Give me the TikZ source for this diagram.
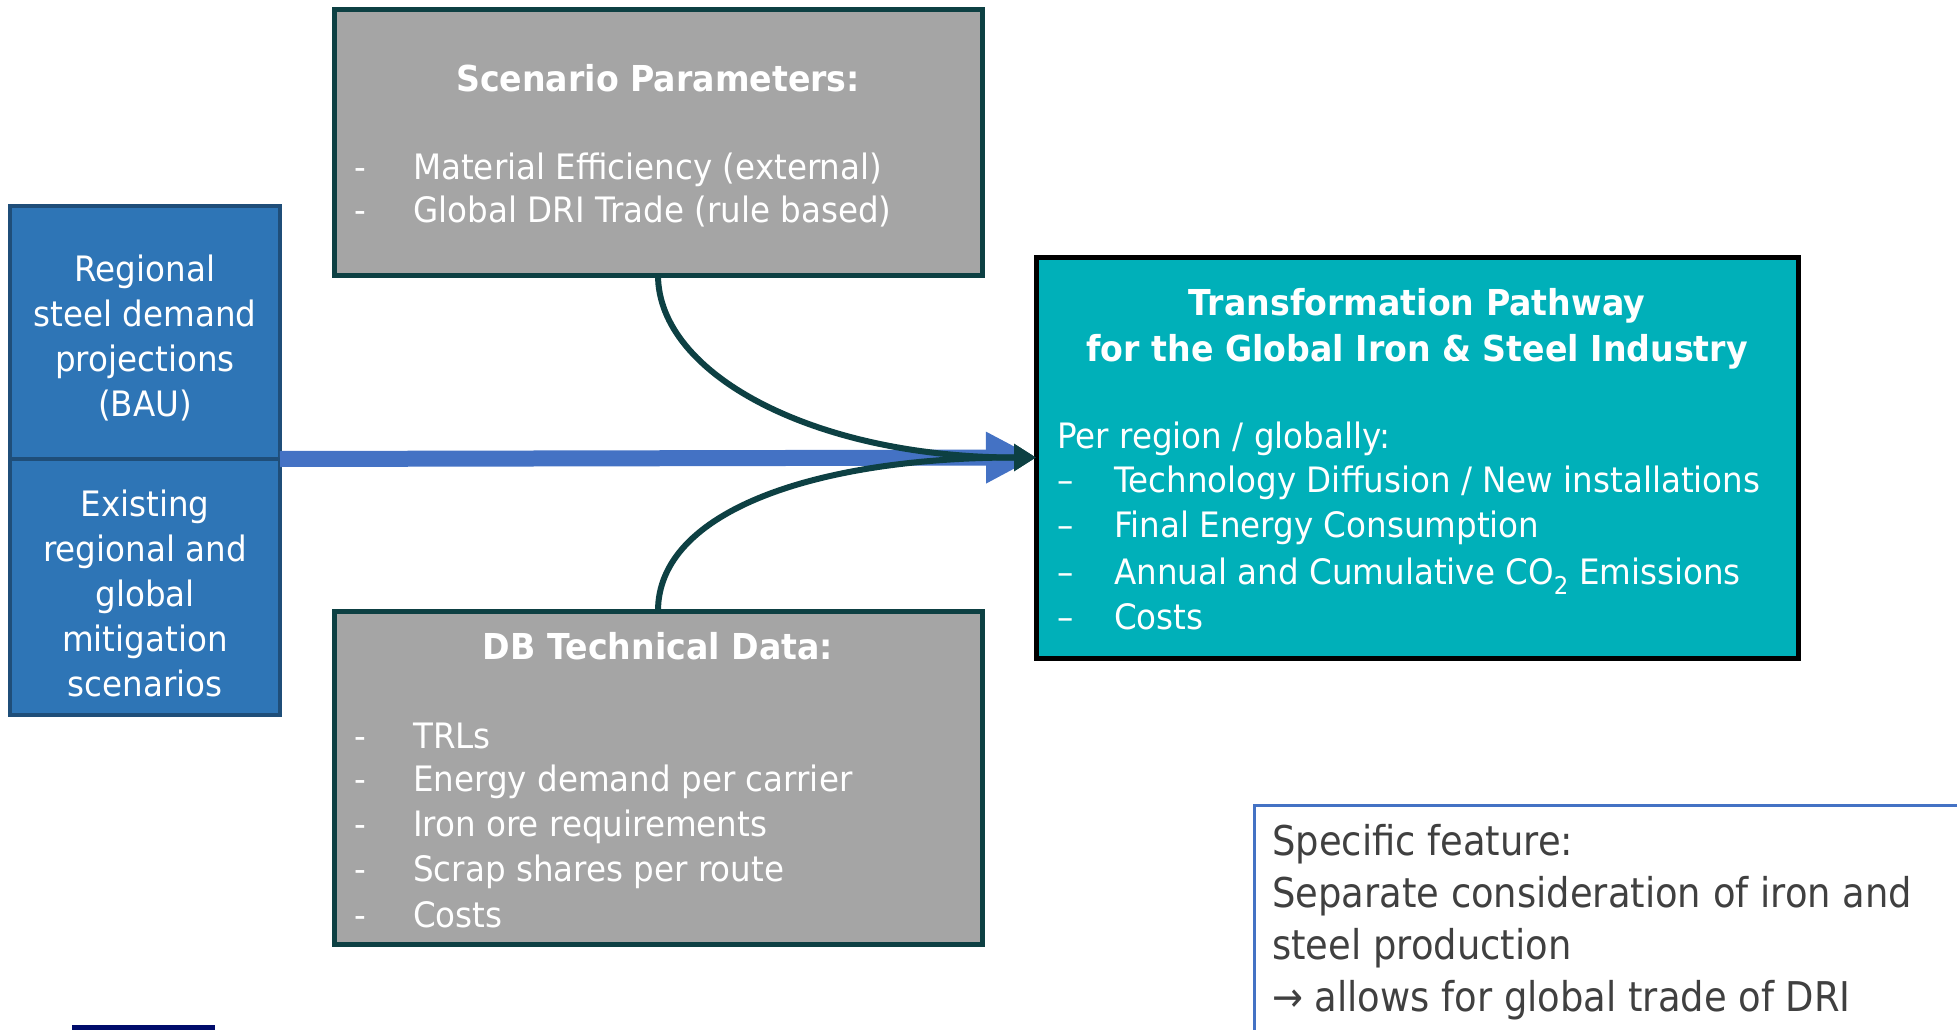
\documentclass[tikz,border=0pt]{standalone}
\usepackage{fontspec}
\setmainfont{DejaVu Sans}[FakeStretch=0.93]
\newfontfamily\specfont{DejaVu Sans}[FakeStretch=0.9]
\usetikzlibrary{positioning, arrows.meta}
\definecolor{demblue}{HTML}{2E75B6}
\definecolor{demedge}{HTML}{1F4E79}
\definecolor{parfill}{HTML}{A5A5A5}
\definecolor{paredge}{HTML}{0D4043}
\definecolor{pathteal}{HTML}{00B0B9}
\definecolor{feedblue}{HTML}{4472C4}
\definecolor{notegray}{HTML}{404040}
\definecolor{navybar}{HTML}{000C6B}
\newcommand{\txt}{\fontsize{35}{45}\selectfont}

\begin{document}
\begin{tikzpicture}[x=1pt, y=-1pt,
    inbox/.style={draw=demedge, fill=demblue, line width=4pt, outer sep=0pt, minimum width=270pt},
    intext/.style={text=white, inner sep=0pt, align=center, font=\txt},
    parbox/.style={draw=paredge, fill=parfill, line width=5pt, outer sep=0pt, minimum width=648pt},
    head/.style={text=white, inner sep=0pt, align=center, font=\fontsize{35.7}{46}\selectfont\bfseries},
    item/.style={text=white, inner sep=0pt, anchor=mid west, font=\txt},
    link/.style={draw=paredge, line width=6pt, -{Triangle[length=22pt,width=26pt]}},
    feed/.style={draw=feedblue, line width=16pt, -{Triangle[length=50pt,width=48pt]}}]
    \useasboundingbox (0,0) rectangle (1957,1030);

    % inputs on the left
    \node[inbox, minimum height=253pt] (dem) at (145,332.5) {};
    \node[inbox, minimum height=256pt] (mit) [below=0pt of dem] {};
    \node[intext, yshift=-6pt] (demtext) at (dem) {Regional\\steel demand\\projections\\(BAU)};
    \node[intext, yshift=-6pt] (mittext) at (mit) {Existing\\regional and\\global\\mitigation\\scenarios};

    % parameter boxes
    \node[parbox, minimum height=265pt] (scen) at (658,142.5) {};
    \node[parbox, minimum height=333pt] (db) [below=336pt of scen] {};
    \node[head] (scenhead) at (658,78) {Scenario Parameters:};
    \node[item] (sp1) at (354,177) {\makebox[59pt][l]{-}Material Efficiency (external)};
    \node[item] (sp2) at (354,220) {\makebox[59pt][l]{-}Global DRI Trade (rule based)};
    \node[head] (dbhead) at (658,646) {DB Technical Data:};
    \node[item] (db1) at (354,746) {\makebox[59pt][l]{-}TRLs};
    \node[item] (db2) at (354,789) {\makebox[59pt][l]{-}Energy demand per carrier};
    \node[item] (db3) at (354,834) {\makebox[59pt][l]{-}Iron ore requirements};
    \node[item] (db4) at (354,879) {\makebox[59pt][l]{-}Scrap shares per route};
    \node[item] (db5) at (354,925) {\makebox[59pt][l]{-}Costs};

    % result
    \node[draw=black, fill=pathteal, line width=5pt, outer sep=0pt, minimum width=762pt, minimum height=401pt] (trans) at (1417,457.5) {};
    \node[head] (transhead) at (1417,329) {Transformation Pathway\\for the Global Iron \& Steel Industry};
    \node[item] (tr0) at (1057,446) {Per region / globally:};
    \node[item] (tr1) at (1057,490) {\makebox[57pt][l]{--}Technology Diffusion / New installations};
    \node[item] (tr2) at (1057,535) {\makebox[57pt][l]{--}Final Energy Consumption};
    \node[item] (tr3) at (1057,582) {\makebox[57pt][l]{--}Annual and Cumulative CO\textsubscript{2} Emissions};
    \node[item] (tr4) at (1057,627) {\makebox[57pt][l]{--}Costs};

    % connectors
    \draw[feed] (dem.south east) -- (trans.west);
    \draw[link] (scen.south) .. controls +(0,100) and +(-220,0) .. (trans.west);
    \draw[link] (db.north) .. controls +(0,-100) and +(-220,0) .. (trans.west);

    % note box
    \node[draw=feedblue, line width=2.5pt, fill=white, anchor=north west, minimum width=730pt, minimum height=250pt] (note) at (1253,804) {};
    \node[anchor=north west, inner sep=0pt, align=left, text=notegray, font=\specfont\fontsize{41}{52}\selectfont] (notetext) at (1272,824)
        {Specific feature:\\Separate consideration of iron and\\steel production\\→ allows for global trade of DRI};

    \fill[navybar] (72,1025) rectangle (215,1031);
\end{tikzpicture}
\end{document}
